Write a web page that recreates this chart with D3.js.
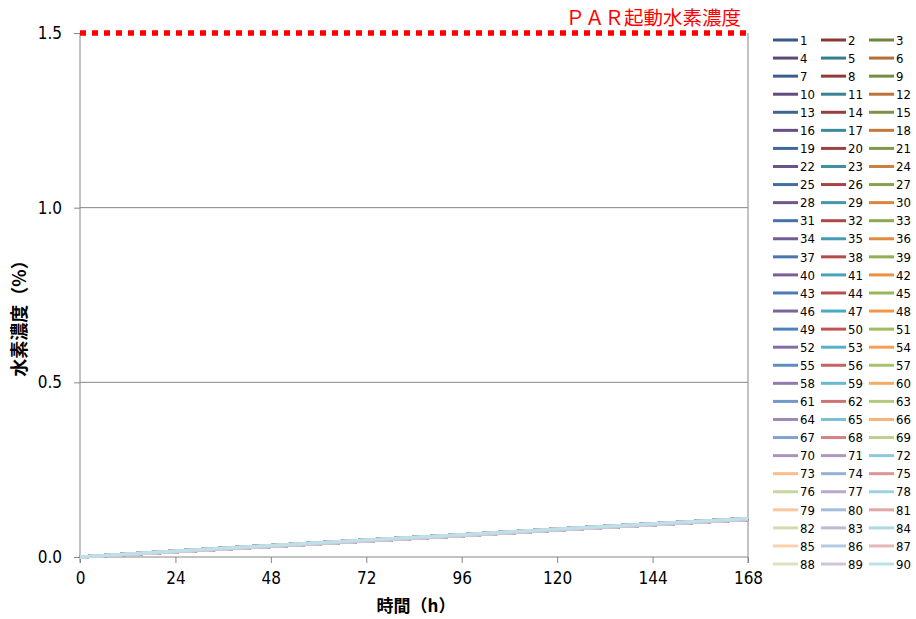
<!DOCTYPE html>
<html>
<head>
<meta charset="utf-8">
<script src="https://cdn.jsdelivr.net/npm/d3@7"></script>
<style>
  body { margin: 0; background: #fff; }
  svg { display: block; }
</style>
</head>
<body>
<div id="chart"></div>
<script>
// elapsed time (h) and hydrogen concentration (%)
const hours = [0, 24, 48, 72, 96, 120, 144, 168];
const profileA = [0.000, 0.016, 0.032, 0.048, 0.063, 0.079, 0.094, 0.109];
const profileB = [0.000, 0.015, 0.030, 0.046, 0.061, 0.077, 0.092, 0.107];
const profileC = [0.000, 0.017, 0.033, 0.049, 0.064, 0.080, 0.095, 0.110];
// which profile each of the 90 series follows
const seriesProfile = ("ABCABCBACABC" + "CABACBABCACB" + "BCABACCABBAC" + "ABCCBAACBBCA" +
  "CBAABCBCAACB" + "ABACBCCABBCA" + "BACABCBCAACB" + "ACBABC").split("");
const seriesNames = d3.range(1, 91).map(String);
const yTicks = [0, 0.5, 1.0, 1.5];
const xTicks = [0, 24, 48, 72, 96, 120, 144, 168];
const parLevel = 1.5;

const profiles = { A: profileA, B: profileB, C: profileC };

const W = 916, H = 619;
const plot = { left: 80, right: 748, top: 33, bottom: 557 };

const svg = d3.select("#chart")
  .append("svg")
  .attr("width", W)
  .attr("height", H);

const x = d3.scaleLinear().domain([0, 168]).range([plot.left, plot.right]);
const y = d3.scaleLinear().domain([0, 1.5]).range([plot.bottom, plot.top]);

// excel-like palette: 6 base colours, shaded from dark to light
// (after series 70 the cycle slips by one, as in the original sheet)
const base = ["#4F81BD", "#C0504D", "#9BBB59", "#8064A2", "#4BACC6", "#F79646"];
function seriesColor(i) {
  const c = base[(i < 70 ? i : i - 1) % 6], k = i / 6;
  if (k < 8) return d3.interpolateRgb(c, "#000")((8 - k) / 8 * 0.3);
  return d3.interpolateRgb(c, "#fff")((k - 8) / 7 * 0.65);
}

const axisColor = "#868686";

// gridlines
svg.append("g")
  .selectAll("line")
  .data(yTicks.filter(d => d > 0 && d < 1.5))
  .enter().append("line")
  .attr("x1", plot.left).attr("x2", plot.right)
  .attr("y1", d => y(d)).attr("y2", d => y(d))
  .attr("stroke", axisColor).attr("stroke-width", 1);

// y axis
const yAxis = svg.append("g")
  .attr("transform", `translate(${plot.left},0)`)
  .call(d3.axisLeft(y).tickValues(yTicks).tickFormat(d3.format(".1f")).tickSize(6).tickPadding(12));
yAxis.select(".domain").remove();
yAxis.append("line")
  .attr("x1", 0).attr("x2", 0)
  .attr("y1", plot.top).attr("y2", plot.bottom + 6)
  .attr("stroke", axisColor);

// x axis
const xAxis = svg.append("g")
  .attr("transform", `translate(0,${plot.bottom})`)
  .call(d3.axisBottom(x).tickValues(xTicks).tickSize(6).tickPadding(9));
xAxis.select(".domain")
  .attr("d", `M${plot.left},0H${plot.right}`);

// right border
svg.append("line")
  .attr("x1", plot.right).attr("x2", plot.right)
  .attr("y1", plot.top).attr("y2", plot.bottom + 6)
  .attr("stroke", axisColor);

svg.selectAll(".tick line").attr("stroke", axisColor);
svg.selectAll(".domain").attr("stroke", axisColor);
svg.selectAll(".tick text")
  .attr("font-family", "'DejaVu Sans Condensed', 'DejaVu Sans', sans-serif")
  .attr("font-size", 17)
  .attr("fill", "#000");

// series lines
const line = d3.line()
  .x((d, i) => x(hours[i]))
  .y(d => y(d));

svg.append("g")
  .selectAll("path")
  .data(seriesNames)
  .enter().append("path")
  .attr("d", (d, i) => line(profiles[seriesProfile[i]]))
  .attr("fill", "none")
  .attr("stroke", (d, i) => seriesColor(i))
  .attr("stroke-width", 3);

// PAR start level
svg.append("line")
  .attr("x1", x(0)).attr("x2", x(168))
  .attr("y1", y(parLevel)).attr("y2", y(parLevel))
  .attr("stroke", "#FF0000")
  .attr("stroke-width", 5.5)
  .attr("stroke-dasharray", "6,6");

svg.append("text")
  .attr("x", 741).attr("y", 25)
  .attr("text-anchor", "end")
  .attr("fill", "#FF0000")
  .attr("font-family", "'Noto Sans CJK JP', sans-serif")
  .attr("font-size", 19.5)
  .text("ＰＡＲ起動水素濃度");

// axis titles
svg.append("text")
  .attr("transform", "translate(26,314) rotate(-90)")
  .attr("text-anchor", "middle")
  .attr("font-family", "'Noto Sans CJK JP', sans-serif")
  .attr("font-weight", "bold")
  .attr("font-size", 18)
  .text("水素濃度（%）");

svg.append("text")
  .attr("x", 416).attr("y", 612)
  .attr("text-anchor", "middle")
  .attr("font-family", "'Noto Sans CJK JP', sans-serif")
  .attr("font-weight", "bold")
  .attr("font-size", 17)
  .text("時間（h）");

// legend
const legend = svg.append("g").attr("transform", "translate(773,40)");
const item = legend.selectAll("g")
  .data(seriesNames)
  .enter().append("g")
  .attr("transform", (d, i) => `translate(${(i % 3) * 48},${Math.floor(i / 3) * 18.07})`);
item.append("line")
  .attr("x1", 0).attr("x2", 25)
  .attr("stroke", (d, i) => seriesColor(i))
  .attr("stroke-width", 3);
item.append("text")
  .attr("x", 27).attr("dy", "0.36em")
  .attr("font-family", "'DejaVu Sans Condensed', 'DejaVu Sans', sans-serif")
  .attr("font-size", 13)
  .text(d => d);
</script>
</body>
</html>
